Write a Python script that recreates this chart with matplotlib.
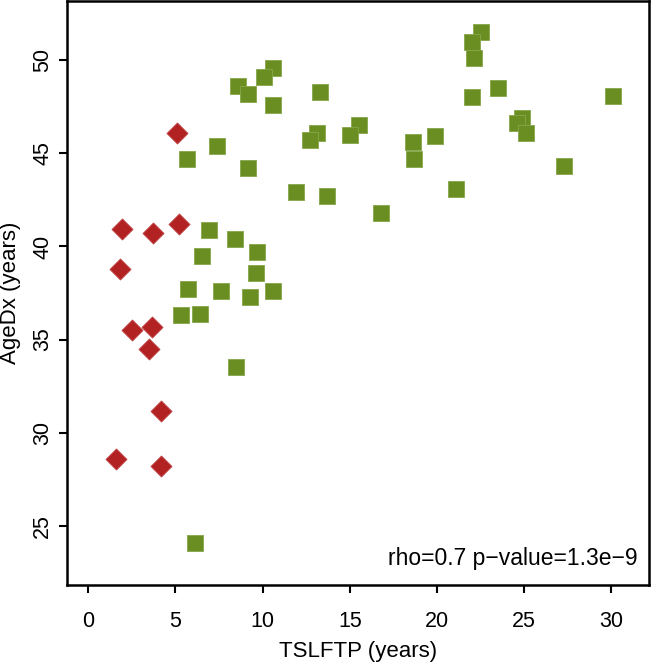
import matplotlib
matplotlib.use("Agg")
import matplotlib.pyplot as plt

plt.rcParams['font.family'] = ['Liberation Sans', 'DejaVu Sans']

# Group 1 (red diamonds)
red_x = [5.11, 1.92, 3.69, 5.20, 1.80, 2.49, 3.64, 3.50, 4.19, 1.59, 4.19]
red_y = [46.11, 40.92, 40.71, 41.21, 38.81, 35.50, 35.67, 34.48, 31.18, 28.60, 28.19]

# Group 2 (green squares)
green_x = [10.61, 10.10, 8.60, 9.18, 10.61, 13.29, 13.10, 12.72, 15.53, 15.01,
           18.61, 18.70, 19.90, 21.10, 11.91, 13.69, 16.81, 22.51, 22.01, 22.11,
           22.01, 23.50, 30.10, 24.90, 24.61, 25.11, 27.30, 5.69, 7.40, 9.18,
           6.91, 8.40, 9.69, 6.50, 9.60, 5.70, 7.61, 9.29, 10.61, 5.30,
           6.41, 8.49, 6.10]
green_y = [49.60, 49.12, 48.60, 48.21, 47.60, 48.31, 46.11, 45.70, 46.51, 46.00,
           45.60, 44.71, 45.91, 43.10, 42.91, 42.69, 41.80, 51.50, 51.00, 50.11,
           48.01, 48.51, 48.10, 46.90, 46.62, 46.11, 44.31, 44.71, 45.41, 44.21,
           40.90, 40.40, 39.70, 39.50, 38.59, 37.70, 37.59, 37.30, 37.59, 36.30,
           36.39, 33.52, 24.09]

x_ticks = [0, 5, 10, 15, 20, 25, 30]
y_ticks = [25, 30, 35, 40, 45, 50]
x_label = "TSLFTP (years)"
y_label = "AgeDx (years)"
annotation = "rho=0.7 p\u2212value=1.3e\u22129"

fig = plt.figure(figsize=(6.52, 6.65), dpi=100)
ax = fig.add_axes([67/652, 1 - 585/665, 582/652, 584/665])

ax.scatter(green_x, green_y, marker='s', s=11.3**2, color='#6b8e23',
           edgecolors='#86a64a', linewidths=0.6, zorder=3)
ax.scatter(red_x, red_y, marker='D', s=10.7**2, color='#b22222',
           edgecolors='#c04040', linewidths=0.6, zorder=3)

ax.set_xlim(-1.22, 32.16)
ax.set_ylim(21.81, 53.19)
ax.set_xticks(x_ticks)
ax.set_yticks(y_ticks)
ax.set_xticklabels([str(v) for v in x_ticks], fontsize=15.5)
ax.set_yticklabels([str(v) for v in y_ticks], fontsize=15.5, rotation=90, va='center')
ax.tick_params(axis='x', direction='out', length=6, width=1.5, pad=12.5)
ax.tick_params(axis='y', direction='out', length=6, width=1.5, pad=4)

for sp in ax.spines.values():
    sp.set_linewidth(1.8)

fig.text(358/652, 1 - 651/665, x_label, ha='center', va='center', fontsize=16)
fig.text(11/652, 1 - 293/665, y_label, ha='center', va='center', fontsize=16, rotation=90)

ax.text(0.981, 0.034, annotation, transform=ax.transAxes, ha='right',
        va='baseline', fontsize=16.5)

fig.savefig("out.png", dpi=100)
